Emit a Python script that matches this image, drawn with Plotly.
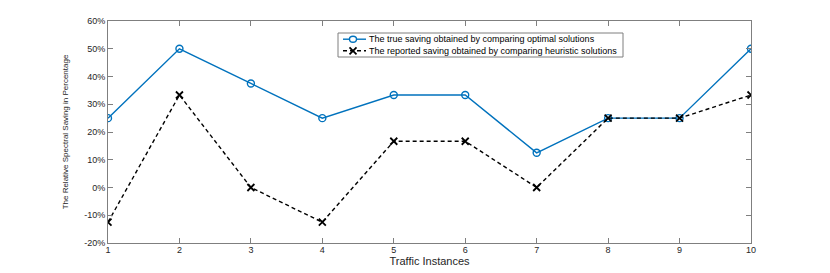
import plotly.graph_objects as go

instances = [1, 2, 3, 4, 5, 6, 7, 8, 9, 10]
true_saving = [25, 50, 37.5, 25, 33.33, 33.33, 12.5, 25, 25, 50]
reported_saving = [-12.5, 33.33, 0, -12.5, 16.67, 16.67, 0, 25, 25, 33.33]
ytick_vals = [-20, -10, 0, 10, 20, 30, 40, 50, 60]
ytick_text = [f"{v}%" for v in ytick_vals]
legend_names = ["The true saving obtained by comparing optimal solutions",
                "The reported saving obtained by comparing heuristic solutions"]

BLUE = "#0072BD"
FONT = "Liberation Sans, Arial, sans-serif"
W, H = 830, 273
L, T = 108, 21
PW, PH = 643, 222
R, B = W - L - PW, H - T - PH


def px(x):
    return (x - L) / PW


def py(y):
    return 1 - (y - T) / PH


fig = go.Figure()
fig.add_trace(go.Scatter(
    x=instances, y=true_saving, mode="lines+markers", name=legend_names[0],
    line=dict(color=BLUE, width=1.4),
    marker=dict(symbol="circle-open", size=7, color=BLUE, line=dict(width=1.4)),
))
fig.add_trace(go.Scatter(
    x=instances, y=reported_saving, mode="lines+markers", name=legend_names[1],
    line=dict(color="black", width=1.4, dash="4px,3px"),
    marker=dict(symbol="x-thin-open", size=7, color="black", line=dict(width=1.8, color="black")),
))

axis_common = dict(
    showline=True, linecolor="#7f7f7f", linewidth=1, mirror="ticks", automargin=False,
    ticks="inside", ticklen=5, tickcolor="#7f7f7f", showgrid=False, zeroline=False,
    tickfont=dict(family=FONT, size=9, color="#262626"),
)
fig.update_xaxes(range=[1, 10], tickvals=instances, ticklabelstandoff=-2,
                 title=dict(text="Traffic Instances", standoff=0,
                            font=dict(family=FONT, size=11, color="#262626")), **axis_common)
fig.update_yaxes(range=[-20, 60], tickvals=ytick_vals, ticktext=ytick_text,
                 title=dict(text="The Relative Spectral Saving in Percentage", standoff=14,
                            font=dict(family=FONT, size=8, color="#262626")),
                 **axis_common)

# Compact MATLAB-style legend box (pixel coordinates in the page)
bx0, bx1, by0, by1 = 338, 623, 33, 57
cy = (by0 + by1) / 2
rows = [cy - 5.8, cy + 5.8]
lx0, lx1, mx, tx = 343, 366, 353, 367
shapes = [dict(type="rect", xref="paper", yref="paper", x0=px(bx0), x1=px(bx1),
               y0=py(by1), y1=py(by0), line=dict(color="#7f7f7f", width=1), fillcolor="white", layer="above")]
shapes.append(dict(type="line", xref="paper", yref="paper", x0=px(lx0), x1=px(lx1),
                   y0=py(rows[0]), y1=py(rows[0]), line=dict(color=BLUE, width=1.4), layer="above"))
shapes.append(dict(type="circle", xref="paper", yref="paper", xsizemode="pixel", ysizemode="pixel",
                   xanchor=px(mx), yanchor=py(rows[0]), x0=-3.5, x1=3.5, y0=-3, y1=3,
                   line=dict(color=BLUE, width=1.4), fillcolor="white", layer="above"))
shapes.append(dict(type="line", xref="paper", yref="paper", x0=px(lx0), x1=px(lx1),
                   y0=py(rows[1]), y1=py(rows[1]), line=dict(color="black", width=1.4, dash="4px,3px"),
                   layer="above"))
for sgn in (1, -1):
    shapes.append(dict(type="line", xref="paper", yref="paper", xsizemode="pixel", ysizemode="pixel",
                       xanchor=px(mx), yanchor=py(rows[1]), x0=-3.5, x1=3.5, y0=-3.5 * sgn, y1=3.5 * sgn,
                       line=dict(color="black", width=1.8), layer="above"))
annotations = [dict(text="<br>".join(legend_names), xref="paper", yref="paper", x=px(tx), y=py(cy),
                    xanchor="left", yanchor="middle", align="left", showarrow=False,
                    font=dict(family=FONT, size=9, color="black"))]

fig.update_layout(
    width=W, height=H, margin=dict(l=L, r=R, t=T, b=B, autoexpand=False),
    plot_bgcolor="white", paper_bgcolor="white",
    showlegend=False, shapes=shapes, annotations=annotations,
)
fig.write_html("out.html", config={"displayModeBar": False},
               post_script="document.body.style.margin='0px';")
